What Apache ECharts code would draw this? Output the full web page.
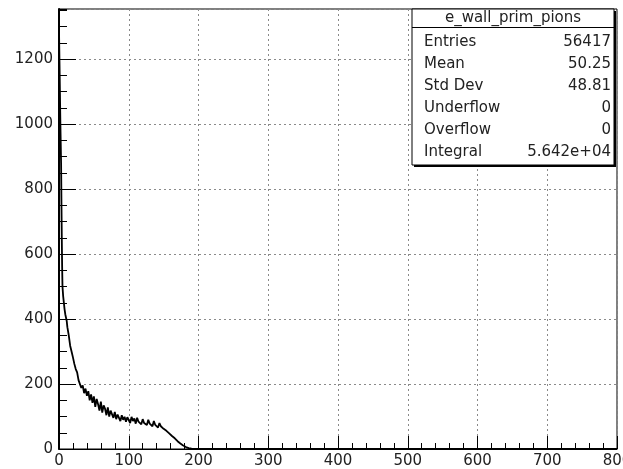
<!DOCTYPE html>
<html>
<head>
<meta charset="utf-8">
<script src="https://cdn.jsdelivr.net/npm/echarts@6/dist/echarts.min.js"></script>
<style>
  html, body { margin: 0; padding: 0; background: #fff; }
  #chart { width: 623px; height: 469px; }
</style>
</head>
<body>
<div id="chart"></div>
<script>
// histogram e_wall_prim_pions, bin centres and contents
const binX = [
    0, 1, 2, 3, 3.5, 4, 4.5, 5, 6, 7, 8, 9, 10, 11, 12, 14, 16, 18, 20,
    22, 24, 26, 28, 30, 32, 34, 36, 38, 40, 42, 44, 46, 48, 50, 52, 54, 56, 58, 60,
    62, 64, 66, 68, 70, 72, 74, 76, 78, 80, 82, 84, 86, 88, 90, 92, 94, 96, 98, 100,
    102, 104, 106, 108, 110, 112, 114, 116, 118, 120, 122, 124, 126, 128, 130,
    132, 134, 136, 138, 140, 142, 144, 146, 148, 150, 152, 154, 156, 158, 160,
    162, 164, 166, 168, 170, 172, 174, 176, 178, 180, 182, 184, 186, 188, 190,
    192, 194, 196, 198, 200, 800
];
const binY = [
    1290, 1150, 1000, 880, 760, 650, 560, 500, 470, 450, 430, 415, 405, 395, 375, 350, 318, 300, 282,
    262, 246, 236, 212, 206, 188, 196, 172, 186, 164, 178, 150, 168, 142, 162, 130, 154, 138, 118, 146,
    112, 134, 124, 104, 128, 100, 118, 112, 96, 114, 92, 106, 100, 86, 104, 90, 99, 84, 98, 92,
    80, 99, 86, 94, 78, 96, 84, 90, 76, 92, 80, 86, 74, 90, 78,
    84, 70, 86, 74, 78, 66, 80, 70, 70, 62, 68, 56, 60, 48, 50,
    40, 42, 33, 32, 24, 25, 17, 18, 11, 11, 6, 7, 3, 3, 1,
    1, 0, 0.5, 0, 0, 0
];

// stats box
const statNames = ['Entries', 'Mean', 'Std Dev', 'Underflow', 'Overflow', 'Integral'];
const statValues = ['56417', '50.25', '48.81', '0', '0', '5.642e+04'];
const histTitle = 'e_wall_prim_pions';

const yMax = 1354.5;   // 1.05 * max bin

const chart = echarts.init(document.getElementById('chart'));

const font = 'DejaVu Sans';
const dotted = { color: '#8a8a8a', width: 1, type: [2, 3] };

const boxX = 412, boxY = 9, boxW = 202, boxH = 156;
const statGraphics = [
    { type: 'rect', shape: { x: boxX + 2, y: boxY + 2, width: boxW, height: boxH }, style: { fill: '#000' }, z: 100 },
    { type: 'rect', shape: { x: boxX, y: boxY, width: boxW, height: boxH }, style: { fill: '#fff', stroke: '#000', lineWidth: 1 }, z: 101 },
    { type: 'line', shape: { x1: boxX, y1: 27.5, x2: boxX + boxW, y2: 27.5 }, style: { stroke: '#000', lineWidth: 1 }, z: 102 },
    { type: 'text', x: boxX + boxW / 2, y: 18, z: 102,
      style: { text: histTitle, font: '15px "' + font + '"', fill: '#222', align: 'center', verticalAlign: 'middle' } }
];
statNames.forEach(function (name, i) {
    const y = 42.5 + i * 21.9;
    statGraphics.push({ type: 'text', x: 424, y: y, z: 102,
        style: { text: name, font: '15px "' + font + '"', fill: '#222', align: 'left', verticalAlign: 'middle' } });
    statGraphics.push({ type: 'text', x: 611, y: y, z: 102,
        style: { text: statValues[i], font: '15px "' + font + '"', fill: '#222', align: 'right', verticalAlign: 'middle' } });
});

const option = {
    backgroundColor: '#fff',
    animation: false,
    grid: {
        left: 59, right: 6, top: 9, bottom: 20,
        outerBoundsMode: 'none',
        containLabel: false,
        show: true, borderColor: '#000', borderWidth: 1, backgroundColor: 'transparent'
    },
    xAxis: {
        type: 'value',
        min: 0, max: 800, interval: 100,
        axisLine: { show: true, lineStyle: { color: '#000', width: 1 } },
        axisTick: { show: true, inside: true, length: 13, lineStyle: { color: '#000' } },
        minorTick: { show: true, splitNumber: 5, length: 6, lineStyle: { color: '#000' } },
        splitLine: { show: true, lineStyle: dotted },
        axisLabel: { color: '#222', fontFamily: font, fontSize: 15, margin: 5, hideOverlap: false }
    },
    yAxis: [
        {
            type: 'value',
            min: 0, max: yMax, interval: 200,
            axisLine: { show: true, lineStyle: { color: '#000', width: 2 } },
            axisTick: { show: true, inside: true, length: 17, lineStyle: { color: '#000' } },
            splitLine: { show: true, lineStyle: dotted },
            axisLabel: {
                color: '#222', fontFamily: font, fontSize: 15, margin: 6,
                showMaxLabel: false,
                formatter: function (v) { return v > 1200 ? '' : String(v); }
            }
        },
        {
            // minor ticks every 50
            type: 'value',
            position: 'left',
            min: 0, max: yMax, interval: 50,
            axisLine: { show: false },
            axisTick: { show: true, inside: true, length: 8, lineStyle: { color: '#000' } },
            splitLine: { show: false },
            axisLabel: { show: false }
        }
    ],
    graphic: statGraphics,
    series: [
        {
            name: histTitle,
            type: 'line',
            yAxisIndex: 0,
            showSymbol: false,
            lineStyle: { color: '#000', width: 1.8 },
            data: binX.map(function (x, i) { return [x, binY[i]]; }),
            z: 10
        }
    ]
};

chart.setOption(option);
</script>
</body>
</html>
